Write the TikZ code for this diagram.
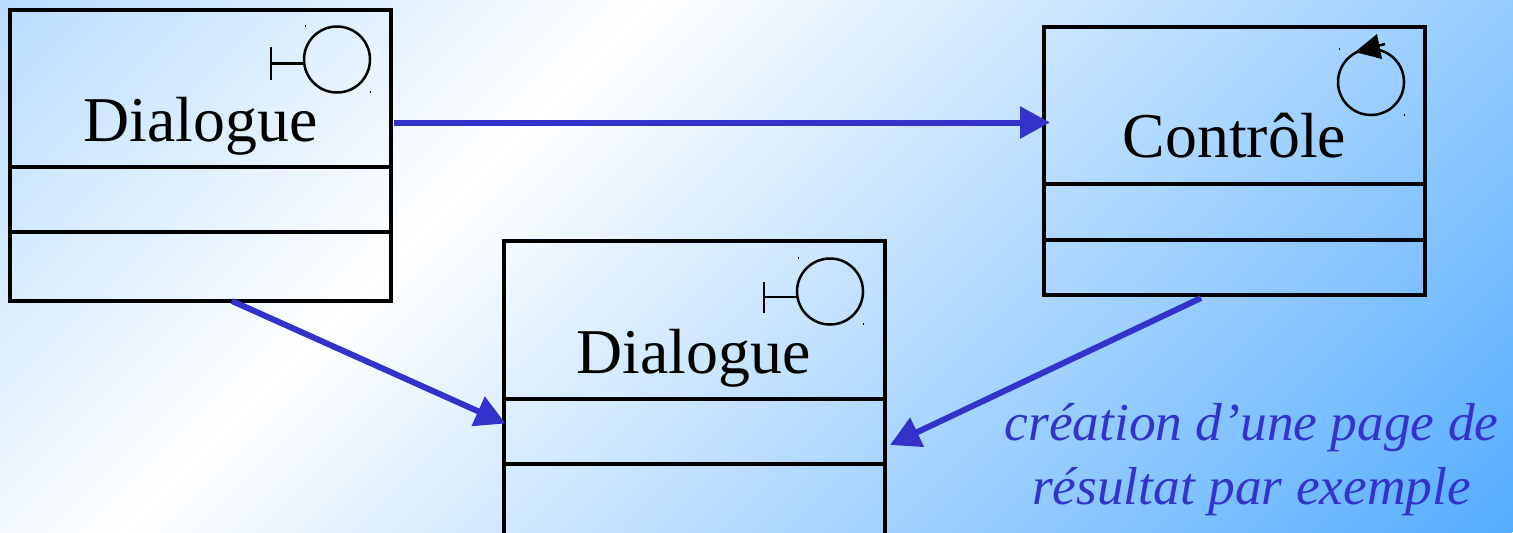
\documentclass[tikz,border=0pt]{standalone}
\usepackage{fontspec}
\setmainfont{Liberation Serif}
\usetikzlibrary{arrows.meta}
\definecolor{arrowblue}{RGB}{51,51,204}
\definecolor{bgstart}{RGB}{184,220,255}
\definecolor{bgend}{RGB}{84,172,255}
% the picture's box maps onto 25bp..75bp of the shading
\pgfdeclarehorizontalshading{pagebg}{100bp}{color(0bp)=(bgstart); color(25bp)=(bgstart); color(41bp)=(white); color(75bp)=(bgend); color(100bp)=(bgend)}
\tikzset{
  classbox/.style={draw=black,line width=1.55pt,rectangle,anchor=north west,inner sep=0pt,outer sep=0pt,minimum width=190.5pt},
  divider/.style={draw=black,line width=1.55pt},
  iconline/.style={draw=black,line width=1.25pt},
  classname/.style={font=\fontsize{31.9pt}{36pt}\selectfont,anchor=base,inner sep=0pt},
  note/.style={font=\fontsize{26.7pt}{32pt}\selectfont\itshape,text=arrowblue,anchor=base,inner sep=0pt},
  flow/.style={draw=arrowblue,line width=3pt,-{Triangle[length=15pt,width=15.5pt,fill=arrowblue]}},
  speck/.style={fill=black,inner sep=0pt,minimum width=0.5pt,minimum height=1pt,draw=none}
}
\begin{document}
\begin{tikzpicture}[x=0.5pt,y=-0.5pt]
\useasboundingbox (0,0) rectangle (1513,532);
\clip (0,0) rectangle (1513,532);
\begin{scope}[transform canvas={rotate=-45}]
  \path[shading=pagebg] (0,-1500) rectangle (1446,1500);
\end{scope}
% boxes
\node[classbox,minimum height=145.5pt] (d1) at (10,10) {};
\node[classbox,minimum height=134pt] (c1) at (1044,27) {};
\node[classbox,minimum height=160pt] (d2) at (504,241) {};
% compartments
\draw[divider] (10,167) -- (391,167) (10,232) -- (391,232);
\draw[divider] (1044,184) -- (1425,184) (1043,240) -- (1423,240);
\draw[divider] (504,399) -- (885,399) (504,464) -- (885,464);
% names
\node[classname] (n1) at (200.5,141) {Dialogue};
\node[classname] (n2) at (1234.5,157) {Contrôle};
\node[classname] (n3) at (693.5,373) {Dialogue};
% boundary icons
\node[iconline,circle,minimum size=33pt,inner sep=0pt] (i1) at (337,59.5) {};
\coordinate (i1t) at (271,63.5);
\draw[iconline] (i1t) -- (i1.west |- i1t);
\draw[iconline] (271,47) -- (271,80);
\node[speck] (s1) at (305,26) {};
\node[speck] (s2) at (370,92) {};
\node[iconline,circle,minimum size=33pt,inner sep=0pt] (i2) at (830,291.5) {};
\coordinate (i2t) at (764,297);
\draw[iconline] (i2t) -- (i2.west |- i2t);
\draw[iconline] (764,282) -- (764,313);
\node[speck] (s3) at (798,258) {};
\node[speck] (s4) at (863,324) {};
% control icon
\node[iconline,circle,minimum size=33pt,inner sep=0pt] (i3) at (1371,82) {};
\fill[black] (1355,52) -- (1377,34) -- (1382,59) -- cycle;
\draw[line width=1.25pt] (1377,46) -- (1385,44);
\node[speck] (s5) at (1339,49) {};
\node[speck] (s6) at (1404,115) {};
% flows
\coordinate (a1s) at (394,122.5);
\coordinate (a1e) at (1050,122.5);
\coordinate (a2s) at (232,301);
\coordinate (a2e) at (505.5,423.5);
\coordinate (a3s) at (1201,298);
\coordinate (a3e) at (890,445);
\draw[flow] (a1s) -- (a1e);
\draw[flow] (a2s) -- (a2e);
\draw[flow] (a3s) -- (a3e);
% note
\node[note] (t1) at (1251.5,440) {création d’une page de};
\node[note] (t2) at (1251.5,504) {résultat par exemple};
\end{tikzpicture}
\end{document}
